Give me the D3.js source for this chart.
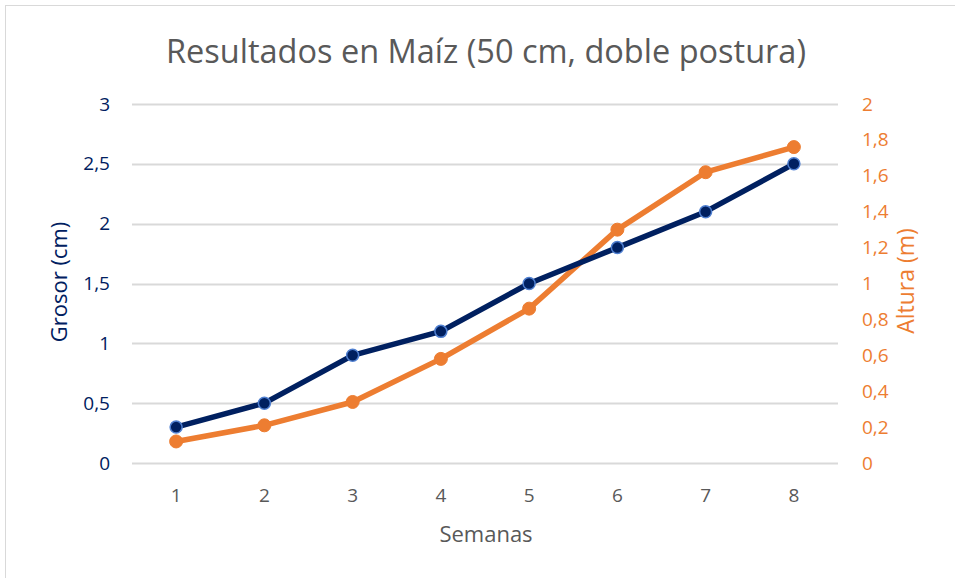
<!DOCTYPE html>
<html>
<head>
<meta charset="utf-8">
<script src="https://cdn.jsdelivr.net/npm/d3@7"></script>
<style>
  body { margin: 0; background: #fff; }
  svg { display: block; font-family: "Open Sans", "Noto Sans", sans-serif; }
</style>
</head>
<body>
<div id="chart"></div>
<script>
var semanas = ["1", "2", "3", "4", "5", "6", "7", "8"];
var grosor = [0.3, 0.5, 0.9, 1.1, 1.5, 1.8, 2.1, 2.5];
var altura = [0.12, 0.21, 0.34, 0.58, 0.86, 1.3, 1.62, 1.76];
var grosorTicks = [0, 0.5, 1, 1.5, 2, 2.5, 3];
var alturaTicks = [0, 0.2, 0.4, 0.6, 0.8, 1, 1.2, 1.4, 1.6, 1.8, 2];

var width = 955, height = 578;
var plotLeft = 132, plotRight = 838, plotTop = 104, plotBottom = 463;

var blue = "#002060", blueEdge = "#4f7fd0", orange = "#ED7D31", grey = "#595959";

var svg = d3.select("#chart").append("svg")
    .attr("width", width)
    .attr("height", height);

// marco del grafico
svg.append("rect")
    .attr("x", 5.5).attr("y", 5.5)
    .attr("width", 980).attr("height", 620)
    .attr("fill", "#fff")
    .attr("stroke", "#d9d9d9");

var x = d3.scaleBand().domain(semanas).range([plotLeft, plotRight]);
var yL = d3.scaleLinear().domain([0, 3]).range([plotBottom, plotTop]);
var yR = d3.scaleLinear().domain([0, 2]).range([plotBottom, plotTop]);

var fmt = function (d) { return String(d).replace(".", ","); };

// gridlines
svg.append("g")
    .selectAll("line")
    .data(grosorTicks)
    .enter()
    .append("line")
    .attr("x1", plotLeft).attr("x2", plotRight)
    .attr("y1", function (d) { return Math.round(yL(d)) + 0.5; })
    .attr("y2", function (d) { return Math.round(yL(d)) + 0.5; })
    .attr("stroke", "#d9d9d9")
    .attr("stroke-width", 2);

// eje izquierdo
var axL = svg.append("g")
    .attr("transform", "translate(" + (plotLeft - 22) + ",0)")
    .call(d3.axisLeft(yL).tickValues(grosorTicks).tickFormat(fmt).tickSize(0).tickPadding(0))
    .attr("font-family", null);
axL.select(".domain").remove();
axL.selectAll("text")
    .attr("fill", blue)
    .attr("font-size", "19px");

// eje derecho
var axR = svg.append("g")
    .attr("transform", "translate(" + (plotRight + 24) + ",0)")
    .call(d3.axisRight(yR).tickValues(alturaTicks).tickFormat(fmt).tickSize(0).tickPadding(0))
    .attr("font-family", null);
axR.select(".domain").remove();
axR.selectAll("text")
    .attr("fill", orange)
    .attr("font-size", "19px");

// eje x
var axX = svg.append("g")
    .attr("transform", "translate(0," + (plotBottom + 22) + ")")
    .call(d3.axisBottom(x).tickSize(0).tickPadding(0))
    .attr("font-family", null);
axX.select(".domain").remove();
axX.selectAll("text")
    .attr("fill", grey)
    .attr("font-size", "19px")
    .attr("dy", "0.9em");

// titulos
svg.append("text")
    .attr("x", 486).attr("y", 63)
    .attr("text-anchor", "middle")
    .attr("fill", grey)
    .attr("font-size", "32.5px")
    .text("Resultados en Maíz (50 cm, doble postura)");

svg.append("text")
    .attr("x", 486).attr("y", 542)
    .attr("text-anchor", "middle")
    .attr("fill", grey)
    .attr("font-size", "22px")
    .text("Semanas");

svg.append("text")
    .attr("transform", "translate(67,282) rotate(-90)")
    .attr("text-anchor", "middle")
    .attr("fill", blue)
    .attr("font-size", "22px")
    .text("Grosor (cm)");

svg.append("text")
    .attr("transform", "translate(914,281) rotate(-90)")
    .attr("text-anchor", "middle")
    .attr("fill", orange)
    .attr("font-size", "23px")
    .text("Altura (m)");

var cx = function (d, i) { return x(semanas[i]) + x.bandwidth() / 2; };

// serie altura
var lineR = d3.line()
    .x(cx)
    .y(function (d) { return yR(d); });
svg.append("path")
    .datum(altura)
    .attr("d", lineR)
    .attr("fill", "none")
    .attr("stroke", orange)
    .attr("stroke-width", 5.5)
    .attr("stroke-linejoin", "round");
svg.append("g")
    .selectAll("circle")
    .data(altura)
    .enter()
    .append("circle")
    .attr("cx", cx)
    .attr("cy", function (d) { return yR(d); })
    .attr("r", 6.5)
    .attr("fill", orange)
    .attr("stroke", orange)
    .attr("stroke-width", 1);

// serie grosor
var lineL = d3.line()
    .x(cx)
    .y(function (d) { return yL(d); });
svg.append("path")
    .datum(grosor)
    .attr("d", lineL)
    .attr("fill", "none")
    .attr("stroke", blue)
    .attr("stroke-width", 5.5)
    .attr("stroke-linejoin", "round");
svg.append("g")
    .selectAll("circle")
    .data(grosor)
    .enter()
    .append("circle")
    .attr("cx", cx)
    .attr("cy", function (d) { return yL(d); })
    .attr("r", 6)
    .attr("fill", blue)
    .attr("stroke", blueEdge)
    .attr("stroke-width", 1.5);
</script>
</body>
</html>
